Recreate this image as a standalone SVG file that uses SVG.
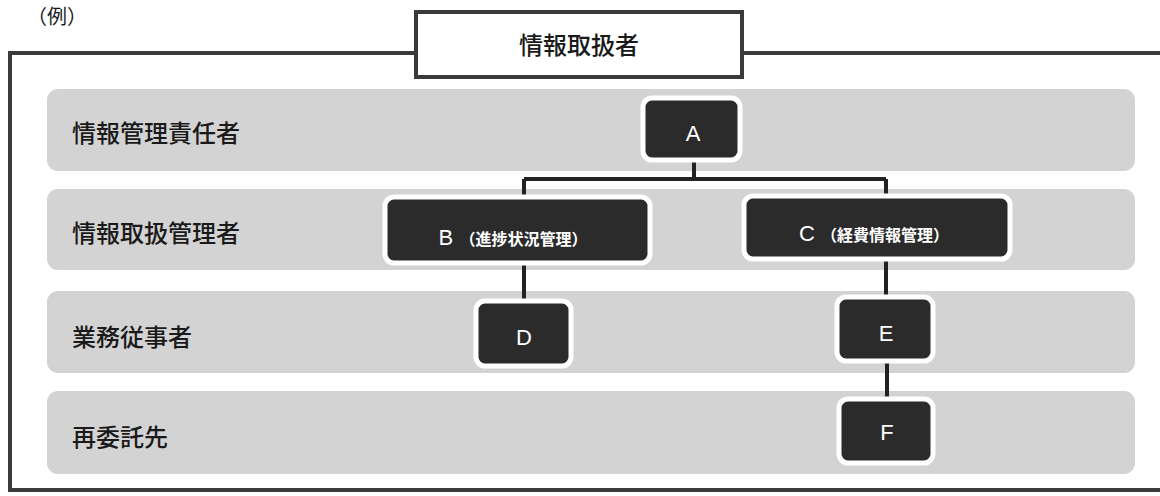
<svg xmlns="http://www.w3.org/2000/svg" width="1160" height="496" viewBox="0 0 1160 496">
<style>
.band{fill:#d3d3d3}
.lbl{font-family:"Noto Sans CJK JP","Noto Sans",sans-serif;font-size:24px;font-weight:500;fill:#1a1a1a}
.node{fill:#2b2b2b;stroke:#ffffff;stroke-width:5}
.nt{font-family:"Liberation Sans","Noto Sans CJK JP",sans-serif;font-size:22px;fill:#ffffff;text-anchor:middle}
.nts{font-family:"Noto Sans CJK JP",sans-serif;font-size:16px;font-weight:bold}
.conn{stroke:#222;stroke-width:4;fill:none}
</style>
<rect width="1160" height="496" fill="#ffffff"/>
<text x="27" y="24" class="lbl" style="font-size:20px;font-weight:400">（例）</text>
<g id="frame">
<rect x="10" y="53" width="1160" height="437" fill="none" stroke="#3a3a3a" stroke-width="4"/>
</g>
<g id="title">
<rect x="416" y="12" width="326" height="65" fill="#ffffff" stroke="#3a3a3a" stroke-width="4"/>
<text x="579" y="54" class="lbl" text-anchor="middle">情報取扱者</text>
</g>
<g id="bands">
<g id="band1"><rect class="band" x="47" y="89" width="1088" height="82" rx="11"/><text class="lbl" x="72" y="142">情報管理責任者</text></g>
<g id="band2"><rect class="band" x="47" y="189" width="1088" height="81" rx="11"/><text class="lbl" x="72" y="242">情報取扱管理者</text></g>
<g id="band3"><rect class="band" x="47" y="291" width="1088" height="82" rx="11"/><text class="lbl" x="72" y="346">業務従事者</text></g>
<g id="band4"><rect class="band" x="47" y="391" width="1088" height="83" rx="11"/><text class="lbl" x="72" y="446">再委託先</text></g>
</g>
<g id="connectors">
<path class="conn" d="M694 160 V179 M524 179 H886 M524 179 V197 M886 179 V196"/>
<path class="conn" d="M524 263 V301"/>
<path class="conn" d="M886 258 V297"/>
<path class="conn" d="M887 361 V399"/>
</g>
<g id="nodeA"><rect class="node" x="643" y="98" width="97" height="62" rx="9"/><text class="nt" x="693" y="141">A</text></g>
<g id="nodeB"><rect class="node" x="385" y="197" width="265" height="66" rx="9"/><text class="nt" x="513" y="245">B <tspan class="nts">（進捗状況管理）</tspan></text></g>
<g id="nodeC"><rect class="node" x="744" y="196" width="266" height="63" rx="9"/><text class="nt" x="874" y="241">C <tspan class="nts">（経費情報管理）</tspan></text></g>
<g id="nodeD"><rect class="node" x="476" y="301" width="95" height="65" rx="9"/><text class="nt" x="524" y="345">D</text></g>
<g id="nodeE"><rect class="node" x="837" y="297" width="96" height="64" rx="9"/><text class="nt" x="886" y="341">E</text></g>
<g id="nodeF"><rect class="node" x="839" y="399" width="94" height="64" rx="9"/><text class="nt" x="887" y="440">F</text></g>
</svg>
